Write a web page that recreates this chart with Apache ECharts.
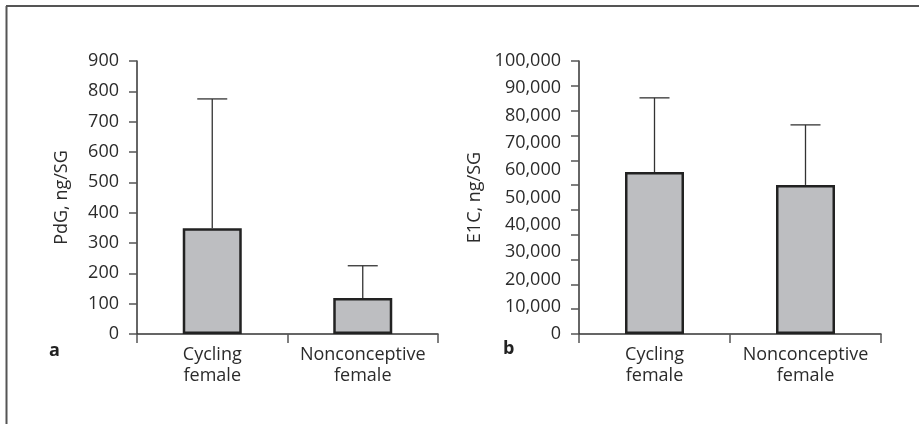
<!DOCTYPE html>
<html>
<head>
<meta charset="utf-8">
<script src="https://cdn.jsdelivr.net/npm/echarts@6/dist/echarts.min.js"></script>
<style>html,body{margin:0;padding:0;background:#fff}#c{width:919px;height:424px}</style>
</head>
<body>
<div id="c"></div>
<script>
const categories = ['Cycling\nfemale', 'Nonconceptive\nfemale'];
const pdgMean = [349, 119];
const pdgUpper = [775, 225];
const e1cMean = [59300, 54600];
const e1cUpper = [86500, 76600];
const pdgTicks = [0, 900, 100];
const e1cTicks = [0, 100000, 10000];

const FONT = 'Open Sans';
const TXT = '#2b2b2b';
const AX = '#333';
const FS = 18;

function errItem(params, api) {
  const lo = api.coord([api.value(0), api.value(1)]);
  const hi = api.coord([api.value(0), api.value(2)]);
  const st = { stroke: '#333', lineWidth: 1.3 };
  return { type: 'group', children: [
    { type: 'line', shape: { x1: lo[0], y1: lo[1], x2: hi[0], y2: hi[1] }, style: st },
    { type: 'line', shape: { x1: hi[0] - 15, y1: hi[1], x2: hi[0] + 15, y2: hi[1] }, style: st },
    { type: 'line', shape: { x1: lo[0] - 15, y1: lo[1] + 2, x2: lo[0] + 15, y2: lo[1] + 2 }, style: { stroke: '#777', lineWidth: 1 } }
  ]};
}

function xAx(gi) {
  return {
    type: 'category', gridIndex: gi, data: categories,
    axisLine: { lineStyle: { color: AX, width: 1.5 } },
    axisTick: { show: true, length: 9, lineStyle: { color: '#555', width: 1.5 } },
    axisLabel: { interval: 0, hideOverlap: false, color: TXT, fontFamily: FONT, fontSize: FS, lineHeight: 21, margin: 10 }
  };
}
function yAx(gi, t, name, gap) {
  return {
    type: 'value', gridIndex: gi, position: 'left', min: t[0], max: t[1], interval: t[2],
    name: name, nameLocation: 'middle', nameGap: gap,
    nameTextStyle: { color: TXT, fontFamily: FONT, fontSize: FS },
    splitLine: { show: false },
    axisLine: { show: true, lineStyle: { color: AX, width: 1.5 } },
    axisTick: { show: gi === 0, length: 8, lineStyle: { color: '#555', width: 1.5 } },
    axisLabel: { color: TXT, fontFamily: FONT, fontSize: FS, margin: 18,
      formatter: v => v.toLocaleString('en-US') }
  };
}

const chart = echarts.init(document.getElementById('c'), null, { renderer: 'canvas' });
chart.setOption({
  animation: false,
  backgroundColor: '#fff',
  grid: [
    { left: 137, right: 481, top: 61, bottom: 90 },
    { left: 579, right: 38, top: 61, bottom: 90 }
  ],
  xAxis: [xAx(0), xAx(1)],
  yAxis: [
    yAx(0, pdgTicks, 'PdG, ng/SG', 66),
    yAx(1, e1cTicks, 'E1C, ng/SG', 95),
    { type: 'value', gridIndex: 1, position: 'left', offset: 0, min: 0, max: 110000, interval: 10000,
      axisLine: { show: false }, splitLine: { show: false }, axisLabel: { show: false },
      axisTick: { show: true, length: 8, lineStyle: { color: '#555', width: 1.5 } } }
  ],
  series: [
    { type: 'custom', xAxisIndex: 0, yAxisIndex: 0, z: 1, renderItem: errItem,
      data: categories.map((c, i) => [i, pdgMean[i], pdgUpper[i]]) },
    { type: 'bar', xAxisIndex: 0, yAxisIndex: 0, z: 2, barWidth: 59, data: pdgMean,
      itemStyle: { color: '#bdbec1', borderColor: '#222', borderWidth: 2.5 } },
    { type: 'custom', xAxisIndex: 1, yAxisIndex: 1, z: 1, renderItem: errItem,
      data: categories.map((c, i) => [i, e1cMean[i], e1cUpper[i]]) },
    { type: 'bar', xAxisIndex: 1, yAxisIndex: 1, z: 2, barWidth: 59, data: e1cMean,
      itemStyle: { color: '#bdbec1', borderColor: '#222', borderWidth: 2.5 } }
  ],
  graphic: [
    { type: 'line', shape: { x1: 6, y1: 6, x2: 919, y2: 6 }, style: { stroke: '#555', lineWidth: 2 } },
    { type: 'line', shape: { x1: 6.5, y1: 6, x2: 6.5, y2: 424 }, style: { stroke: '#555', lineWidth: 2 } },
    { type: 'text', left: 49, top: 342, style: { text: 'a', fill: '#222', font: 'bold 18px "Open Sans"' } },
    { type: 'text', left: 503, top: 340, style: { text: 'b', fill: '#222', font: 'bold 18px "Open Sans"' } }
  ]
});
</script>
</body>
</html>
